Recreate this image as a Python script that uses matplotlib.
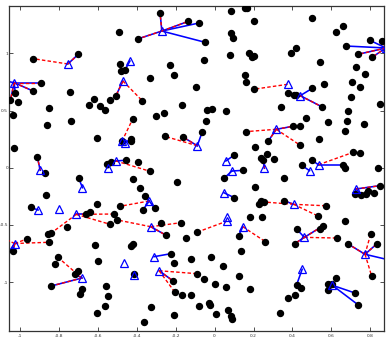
import matplotlib
matplotlib.use("Agg")
import matplotlib.pyplot as plt

# points (black dots)
dots_x = [
    -0.280, -0.136, -0.081, -0.491, -0.393, -0.700, -0.931, -0.485, -0.230, -0.481,
    -0.461, -0.211, -0.334, -0.894, -0.097, -0.933, -0.744, -1.024, -1.049, -1.010,
    -0.621, -0.507, -0.536, -0.372, -0.646, -0.587, -0.565, -0.853, -0.169, -1.034,
    -0.261, -0.303, -0.420, -0.737, -0.861, -0.602, -0.257, -0.162, -0.431, -0.428,
    -0.478, -1.029, -0.911, -0.869, -0.551, -0.532, -0.457, -0.394, -0.333, -0.698,
    -0.420, -0.063,
    0.083, 0.155, 0.167, 0.205, 0.502, 0.660, 0.624, 0.085, 0.096, -0.050,
    0.798, 0.858, 0.674, 0.739, 0.809, -0.053, 0.080, 0.176, 0.193, 0.205,
    0.394, 0.420, 0.543, 0.727, 0.771, 0.154, 0.159, 0.201, 0.375, 0.406,
    0.420, 0.502, 0.561, 0.708, 0.746, 0.701, 0.553, 0.851, 0.343, -0.039,
    -0.015, 0.058, 0.687, -0.045, 0.469, 0.585, 0.682, 0.768, 0.672, 0.403,
    0.440, 0.159, 0.275, 0.534, 0.440, 0.210, 0.239, 0.270, 0.307, 0.249,
    0.099, 0.147, 0.048, 0.357, 0.447, 0.498, 0.659, 0.672, 0.713, 0.746,
    0.841,
    -0.194, -0.384, -0.866, -0.360, -0.370, -0.307, -0.945, -0.604, -0.488, -0.640,
    -0.660, -0.515, -0.500, -0.537, -0.757, -0.275, -0.174, -0.092, -0.966, -0.839,
    -0.856, -0.850, -0.251, -0.145, -0.614, -0.430, -0.418, -1.035, -0.805, -0.599,
    -0.225, -0.208, -0.119, -0.820, -0.700, -0.716, -0.416, -0.215, -0.089, -0.841,
    -0.681, -0.559, -0.205, -0.691, -0.546, -0.167, -0.123, -0.563, -0.329, -0.082,
    -0.604, -0.210, -0.362,
    0.210, 0.101, 0.227, 0.241, 0.254, 0.358, 0.571, 0.850, 0.722, 0.754,
    0.790, 0.820, 0.776, 0.183, 0.242, 0.531, 0.669, 0.559, 0.543, 0.423,
    0.123, 0.261, 0.411, 0.630, 0.684, 0.802, 0.833, 0.138, -0.017, 0.042,
    -0.053, 0.000, 0.060, 0.126, 0.181, -0.027, -0.026, 0.005, 0.067, 0.085,
    0.089, 0.336, 0.379, 0.413, 0.421, 0.444, 0.623, 0.582, 0.583, 0.605,
    0.722, 0.739, 0.807,
    -1.120, -1.110, 0.930,
]
dots_y = [
    1.350, 1.279, 1.265, 1.184, 1.127, 0.992, 0.953, 0.904, 0.901, 0.843,
    0.854, 0.808, 0.784, 0.743, 0.704, 0.671, 0.662, 0.651, 0.592, 0.572,
    0.603, 0.630, 0.592, 0.586, 0.548, 0.542, 0.502, 0.522, 0.551, 0.458,
    0.478, 0.449, 0.429, 0.406, 0.371, 0.260, 0.275, 0.268, 0.254, 0.233,
    0.231, 0.170, 0.094, -0.044, 0.035, 0.050, 0.065, 0.050, -0.031, -0.093,
    -0.099, 0.315,
    1.373, 1.397, 1.397, 1.283, 1.312, 1.242, 1.189, 1.175, 1.132, 1.097,
    1.114, 1.105, 1.064, 0.992, 0.965, 0.944, 0.983, 1.000, 0.971, 0.979,
    1.006, 1.044, 0.922, 0.878, 0.822, 0.808, 0.749, 0.686, 0.651, 0.633,
    0.636, 0.694, 0.735, 0.749, 0.706, 0.616, 0.531, 0.560, 0.531, 0.505,
    0.516, 0.498, 0.498, 0.406, 0.435, 0.402, 0.408, 0.382, 0.321, 0.362,
    0.367, 0.315, 0.231, 0.248, 0.196, 0.181, 0.085, 0.122, 0.076, 0.067,
    0.108, -0.023, -0.093, -0.093, 0.021, 0.067, 0.026, -0.005, 0.135, 0.126,
    -0.005,
    -0.125, -0.175, -0.236, -0.247, -0.373, -0.355, -0.346, -0.315, -0.338, -0.387,
    -0.408, -0.405, -0.457, -0.495, -0.516, -0.486, -0.481, -0.565, -0.624, -0.571,
    -0.577, -0.652, -0.589, -0.617, -0.673, -0.685, -0.670, -0.726, -0.784, -0.813,
    -0.752, -0.831, -0.801, -0.842, -0.901, -0.932, -0.930, -0.988, -0.927, -1.035,
    -1.058, -1.035, -1.087, -1.107, -1.122, -1.116, -1.116, -1.212, -1.221, -1.212,
    -1.271, -1.286, -1.352,
    -0.166, -0.262, -0.317, -0.291, -0.300, -0.289, -0.333, -0.157, -0.233, -0.236,
    -0.201, -0.219, -0.233, -0.428, -0.428, -0.422, -0.466, -0.507, -0.539, -0.539,
    -0.595, -0.647, -0.665, -0.615, -0.665, -0.580, -0.667, -0.728, -0.778, -0.857,
    -0.976, -1.020, -1.041, -0.944, -1.063, -1.186, -1.203, -1.282, -1.244, -1.294,
    -1.323, -1.268, -1.142, -1.116, -1.026, -1.049, -0.962, -1.020, -1.070, -1.020,
    -1.096, -1.201, -0.947,
    0.775, -0.860, -0.820,
]

# centres (blue triangles)
tri_x = [-0.271, -0.754, -0.435, -1.030, -0.471, -0.476, -0.459, -0.089, -0.896, -0.548,
         -0.507, 0.375, 0.440, 0.880, 0.317, 0.058, 0.089, 0.256, 0.488, 0.534,
         -0.679, -0.907, -0.802, -0.336, -0.711, -0.328, -0.464, -0.413, -0.311, -0.285,
         -0.682, -1.027, 0.048, 0.065, 0.065, 0.145, 0.406, 0.461, 0.727, 0.773,
         0.450, 0.605]
tri_y = [1.195, 0.907, 0.933, 0.743, 0.758, 0.231, 0.213, 0.192, -0.023, 0.000,
         0.059, 0.729, 0.630, 1.047, 0.336, 0.059, -0.029, -0.005, -0.026, 0.026,
         -0.175, -0.370, -0.361, -0.291, -0.408, -0.516, -0.831, -0.938, -0.778, -0.901,
         -0.965, -0.663, -0.219, -0.428, -0.466, -0.516, -0.320, -0.609, -0.186, -0.757,
         -0.888, -1.028]

# links: (triangle index, point x, point y)
blue_links = [
    (0, -0.280, 1.350), (0, -0.136, 1.279), (0, -0.081, 1.265), (0, -0.050, 1.097), (0, -0.393, 1.127),
    (1, -0.700, 0.992), (2, -0.461, 0.854),
    (3, -0.894, 0.743), (3, -0.933, 0.671), (3, -1.049, 0.592), (3, -1.024, 0.651), (3, -1.120, 0.775),
    (4, -0.507, 0.630), (5, -0.428, 0.233), (6, -0.431, 0.254),
    (7, -0.162, 0.268), (7, -0.063, 0.315), (8, -0.911, 0.094), (9, -0.551, 0.035),
    (10, -0.532, 0.050), (10, -0.457, 0.065),
    (12, 0.502, 0.694), (12, 0.553, 0.531), (12, 0.406, 0.633),
    (13, 0.674, 1.064), (13, 0.739, 0.992), (13, 0.798, 1.114), (13, 0.809, 0.965),
    (14, 0.275, 0.231), (14, 0.403, 0.362), (15, 0.099, 0.108),
    (16, 0.147, -0.023), (16, 0.048, -0.093), (17, 0.249, 0.067), (18, 0.447, 0.021),
    (19, 0.498, 0.067), (19, 0.659, 0.026),
    (20, -0.698, -0.093), (21, -0.945, -0.346),
    (23, -0.370, -0.373), (23, -0.307, -0.355), (23, -0.360, -0.247),
    (24, -0.660, -0.408), (25, -0.251, -0.589), (28, -0.225, -0.752), (29, -0.215, -0.988),
    (30, -0.841, -1.035), (30, -0.716, -0.932),
    (31, -1.035, -0.726), (31, -1.110, -0.860),
    (32, 0.101, -0.262), (35, 0.123, -0.595), (36, 0.358, -0.289),
    (37, 0.411, -0.665), (37, 0.559, -0.507), (37, 0.423, -0.539),
    (38, 0.850, -0.157), (38, 0.754, -0.236), (38, 0.722, -0.233),
    (39, 0.684, -0.665), (39, 0.833, -0.667), (39, 0.930, -0.820),
    (40, 0.421, -1.026), (41, 0.722, -1.096), (41, 0.739, -1.201),
]
red_links = [
    (0, -0.280, 1.350), (0, -0.136, 1.279), (0, -0.393, 1.127),
    (1, -0.931, 0.953), (1, -0.700, 0.992),
    (3, -0.894, 0.743), (3, -0.933, 0.671), (3, -1.049, 0.592),
    (4, -0.372, 0.586), (4, -0.507, 0.630), (5, -0.420, 0.429),
    (7, -0.257, 0.275), (7, -0.162, 0.268), (8, -0.911, 0.094), (10, -0.333, -0.031),
    (11, 0.201, 0.686), (12, 0.553, 0.531),
    (13, 0.739, 0.992), (13, 0.809, 0.965), (13, 0.858, 1.105),
    (14, 0.159, 0.315), (14, 0.275, 0.231), (14, 0.403, 0.362), (14, 0.440, 0.196),
    (17, 0.249, 0.067), (19, 0.713, 0.135),
    (23, -0.488, -0.338),
    (24, -0.839, -0.571), (24, -0.515, -0.405), (24, -0.537, -0.495), (24, -0.660, -0.408),
    (25, -0.500, -0.457), (25, -0.251, -0.589), (25, -0.174, -0.481),
    (29, -0.089, -0.927), (29, -0.215, -0.988), (29, -0.205, -1.087),
    (30, -0.841, -1.035), (30, -0.805, -0.784),
    (31, -1.035, -0.726), (31, -0.966, -0.624), (31, -0.850, -0.652), (31, -1.110, -0.600),
    (34, -0.092, -0.565), (35, 0.261, -0.647),
    (36, 0.254, -0.300), (36, 0.358, -0.289), (36, 0.571, -0.333), (36, 0.531, -0.422),
    (37, 0.411, -0.665), (37, 0.559, -0.507), (37, 0.630, -0.615),
    (38, 0.850, -0.157),
    (39, 0.684, -0.665), (39, 0.802, -0.580), (39, 0.833, -0.667), (39, 0.807, -0.947),
]

fig = plt.figure(figsize=(3.87, 3.53), dpi=100)
ax = fig.add_axes([0.024, 0.061, 0.969, 0.923])

for t, px, py in blue_links:
    ax.plot([tri_x[t], px], [tri_y[t], py], color="#0000ff", lw=1.15, zorder=2)
for t, px, py in red_links:
    ax.plot([tri_x[t], px], [tri_y[t], py], color="#ff0000", lw=1.0,
            dashes=(2.5, 1.6), zorder=3)

ax.plot(dots_x, dots_y, "o", color="black", ms=4.3, zorder=4)
ax.plot(tri_x, tri_y, "^", mfc="none", mec="#0000ff", mew=0.9, ms=5.8, zorder=5)

ax.set_xlim(-1.055, 0.872)
ax.set_ylim(-1.432, 1.417)
ax.set_xticks([-1, -0.8, -0.6, -0.4, -0.2, 0, 0.2, 0.4, 0.6, 0.8])
ax.set_xticklabels(["-1", "-0.8", "-0.6", "-0.4", "-0.2", "0", "0.2", "0.4", "0.6", "0.8"])
ax.set_yticks([-1, -0.5, 0, 0.5, 1])
ax.set_yticklabels(["-1", "-0.5", "0", "0.5", "1"])
ax.tick_params(direction="in", length=3, width=0.6, labelsize=3.2, top=True, right=True,
               colors="#333333", pad=1.5)
ax.tick_params(axis="y", pad=0.8)
for s in ax.spines.values():
    s.set_linewidth(0.9)
    s.set_color("#333333")

fig.savefig("out.png", dpi=100)
